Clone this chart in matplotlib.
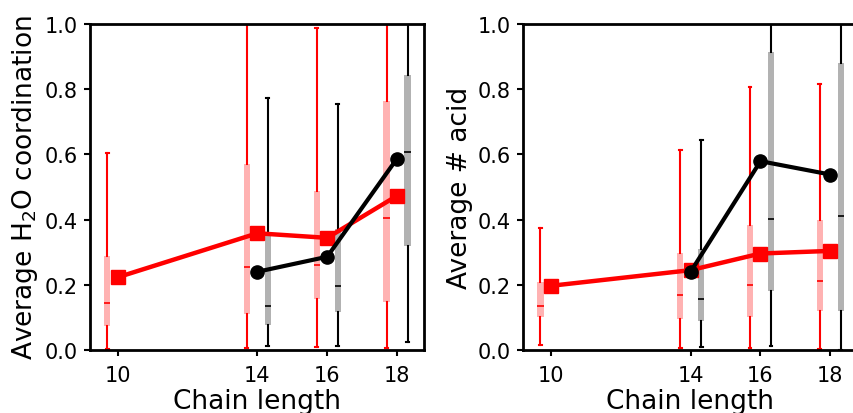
import matplotlib
matplotlib.use("Agg")
import matplotlib.pyplot as plt

# chain lengths
chain_red = [10, 14, 16, 18]
chain_black = [14, 16, 18]
xtick_labels = ["10", "14", "16", "18"]

# left panel: H2O coordination
h2o_red_mean = [0.223, 0.358, 0.344, 0.473]
h2o_red_lo = [0.003, 0.006, 0.008, 0.006]
h2o_red_q1 = [0.075, 0.110, 0.156, 0.148]
h2o_red_med = [0.143, 0.254, 0.262, 0.405]
h2o_red_q3 = [0.287, 0.569, 0.488, 0.762]
h2o_red_hi = [0.604, 1.05, 0.987, 1.05]

h2o_black_mean = [0.240, 0.286, 0.587]
h2o_black_lo = [0.013, 0.013, 0.024]
h2o_black_q1 = [0.077, 0.118, 0.318]
h2o_black_med = [0.136, 0.195, 0.608]
h2o_black_q3 = [0.356, 0.371, 0.844]
h2o_black_hi = [0.772, 0.755, 1.05]

# right panel: number of acid
acid_red_mean = [0.197, 0.245, 0.296, 0.304]
acid_red_lo = [0.017, 0.005, 0.005, 0.002]
acid_red_q1 = [0.102, 0.095, 0.100, 0.120]
acid_red_med = [0.136, 0.170, 0.199, 0.211]
acid_red_q3 = [0.209, 0.299, 0.383, 0.400]
acid_red_hi = [0.373, 0.612, 0.806, 0.816]

acid_black_mean = [0.240, 0.579, 0.538]
acid_black_lo = [0.010, 0.013, 0.000]
acid_black_q1 = [0.089, 0.181, 0.120]
acid_black_med = [0.158, 0.403, 0.411]
acid_black_q3 = [0.311, 0.915, 0.880]
acid_black_hi = [0.643, 1.05, 1.05]


def stats(lo, q1, med, q3, hi):
    return [dict(whislo=a, q1=b, med=c, q3=d, whishi=e)
            for a, b, c, d, e in zip(lo, q1, med, q3, hi)]


def draw_boxes(ax, pos, st, color):
    ax.bxp(st, positions=pos, widths=0.18, showfliers=False,
           patch_artist=True, capwidths=0.08, manage_ticks=False,
           boxprops=dict(facecolor=color, alpha=0.3, edgecolor="none"),
           medianprops=dict(color=color, lw=1.2),
           whiskerprops=dict(color=color, lw=1.5),
           capprops=dict(color=color, lw=1.5))


plt.rcParams["font.family"] = "DejaVu Sans"
plt.rcParams["xtick.labelsize"] = 15
plt.rcParams["ytick.labelsize"] = 15
plt.rcParams["xtick.major.pad"] = 7
plt.rcParams["ytick.major.pad"] = 5
fig = plt.figure(figsize=(8.54, 4.14), dpi=100)
ax1 = fig.add_axes([0.1054, 0.152, 0.391, 0.788])
ax2 = fig.add_axes([0.6128, 0.152, 0.391, 0.788])

panels = [
    (ax1, "Average H$_2$O coordination",
     stats(h2o_red_lo, h2o_red_q1, h2o_red_med, h2o_red_q3, h2o_red_hi), h2o_red_mean,
     stats(h2o_black_lo, h2o_black_q1, h2o_black_med, h2o_black_q3, h2o_black_hi), h2o_black_mean),
    (ax2, "Average # acid",
     stats(acid_red_lo, acid_red_q1, acid_red_med, acid_red_q3, acid_red_hi), acid_red_mean,
     stats(acid_black_lo, acid_black_q1, acid_black_med, acid_black_q3, acid_black_hi), acid_black_mean),
]

for ax, ylab, red_st, red_mean, black_st, black_mean in panels:
    draw_boxes(ax, [c - 0.3 for c in chain_red], red_st, "red")
    draw_boxes(ax, [c + 0.3 for c in chain_black], black_st, "black")
    ax.plot(chain_red, red_mean, color="red", lw=3.2, marker="s", ms=9.5, zorder=5)
    ax.plot(chain_black, black_mean, color="black", lw=3, marker="o", ms=9.5, zorder=6)
    ax.set_xlim(9.21, 18.77)
    ax.set_ylim(0, 1)
    ax.set_xticks(chain_red)
    ax.set_xticklabels(xtick_labels)
    ax.set_yticks([0, 0.2, 0.4, 0.6, 0.8, 1.0])
    ax.tick_params(direction="out", length=4, width=1.5)
    ax.set_xlabel("Chain length", fontsize=19, labelpad=2)
    ax.set_ylabel(ylab, fontsize=19, labelpad=3)
    for s in ax.spines.values():
        s.set_linewidth(2)

fig.savefig("out.png", dpi=100)
